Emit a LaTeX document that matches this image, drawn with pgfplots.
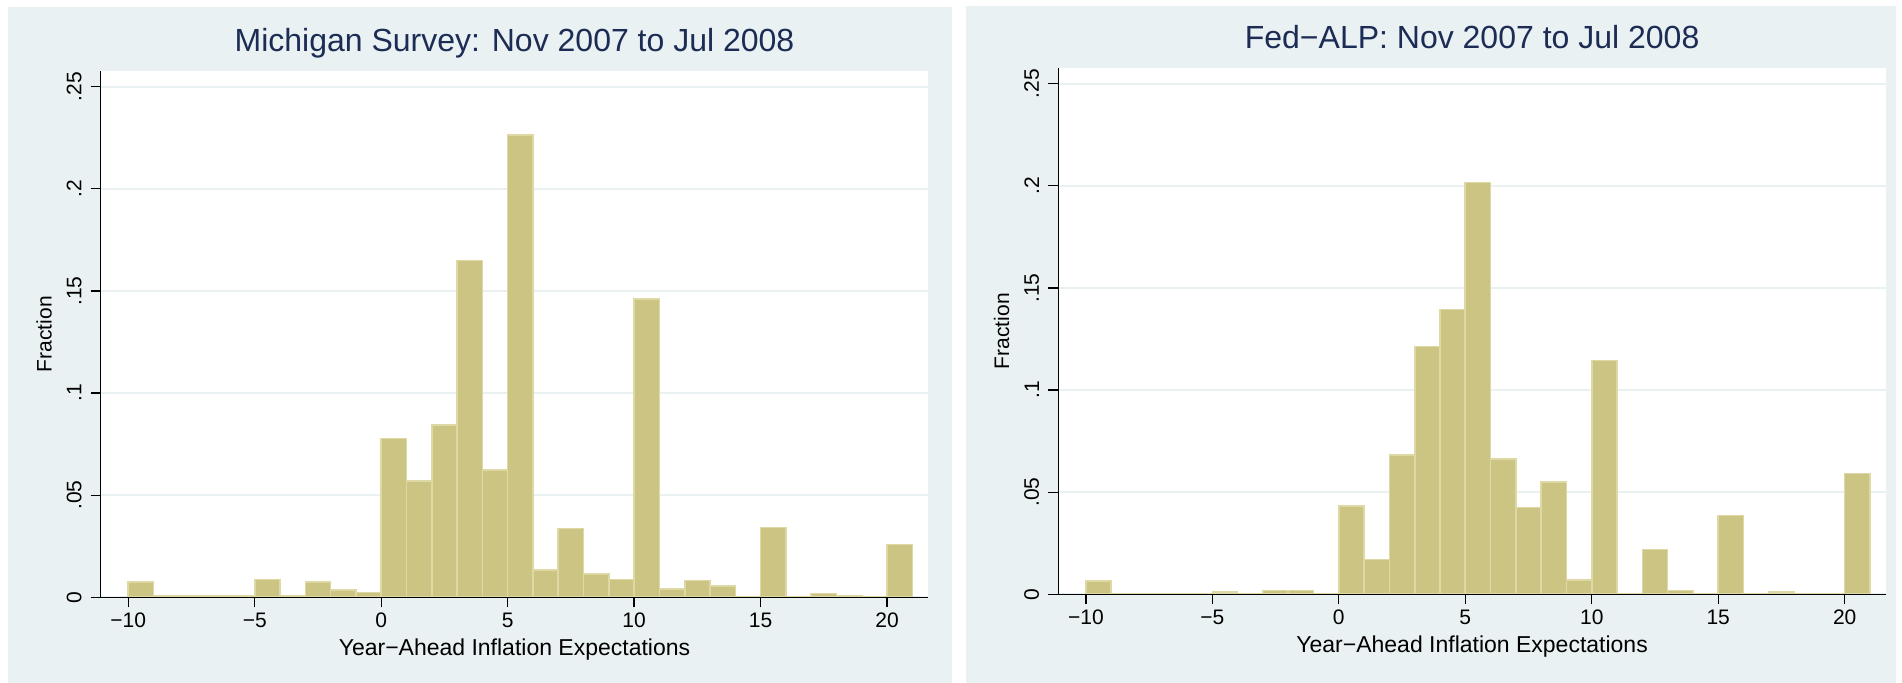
\documentclass[border=0pt]{standalone}
\usepackage{fontspec}
\setmainfont{Liberation Sans}
\usepackage{pgfplots}
\pgfplotsset{compat=1.18}
\definecolor{bgc}{RGB}{234,241,243}
\definecolor{barfill}{RGB}{204,196,130}
\definecolor{baredge}{RGB}{222,216,165}
\definecolor{gridc}{RGB}{234,241,243}
\definecolor{titlec}{RGB}{28,44,84}
\pgfplotsset{
  stata/.style={
    scale only axis, width=827.6bp, height=526.3bp,
    xmin=-11.09, xmax=21.63, ymin=0, ymax=0.2577,
    axis lines*=left,
    axis line style={black, line width=1.3bp},
    tick align=outside,
    major tick length=10bp,
    every tick/.style={black, line width=1.3bp},
    xtick={-10,-5,0,5,10,15,20},
    xticklabels={−10,−5,0,5,10,15,20},
    ytick={0,0.05,0.1,0.15,0.2,0.25},
    yticklabels={0,.05,.1,.15,.2,.25},
    ymajorgrids,
    major grid style={gridc, line width=2.2bp},
    axis background/.style={fill=white},
    tick label style={font=\fontsize{21bp}{25bp}\selectfont, inner sep=0pt, text=black},
    xticklabel shift=5.7bp,
    yticklabel shift=9bp,
    yticklabel style={rotate=90, anchor=south},
    xticklabel style={anchor=north},
    title style={at={(axis description cs:0.5,1)}, anchor=base, yshift=14bp, font=\fontsize{32bp}{38bp}\selectfont, text=titlec, inner sep=0pt},
    xlabel style={at={(axis description cs:0.5,0)}, anchor=base, yshift=-57.7bp, font=\fontsize{23bp}{28bp}\selectfont, inner sep=0pt},
    ylabel style={at={(axis description cs:-0.0684,0.5)}, anchor=center, font=\fontsize{21bp}{25bp}\selectfont, inner sep=0pt},
    xlabel={Year−Ahead Inflation Expectations},
    ylabel={Fraction},
  },
  histbar/.style={ybar interval, fill=barfill, draw=baredge, line width=1.6bp},
}
\begin{document}
\begin{tikzpicture}
\path[use as bounding box, fill=white] (0,0) rectangle (1902bp,683bp);
\fill[bgc] (8bp,0bp) rectangle (951.7bp,676bp);
\fill[bgc] (966bp,0bp) rectangle (1896bp,677bp);
\begin{axis}[stata, at={(100.7bp,85.7bp)}, anchor=south west,
  title={Michigan Survey: Nov 2007 to Jul 2008}]
\addplot[histbar] coordinates {
(-10,0.0076) (-9,0.0005) (-8,0.0005) (-7,0.0005) (-6,0.0005)
(-5,0.0088) (-4,0.0005) (-3,0.0076) (-2,0.0035) (-1,0.0024)
(0,0.0777) (1,0.0570) (2,0.0843) (3,0.1650) (4,0.0624)
(5,0.2265) (6,0.0134) (7,0.0337) (8,0.0113) (9,0.0088)
(10,0.1462) (11,0.0041) (12,0.0082) (13,0.0054) (14,0)
(15,0.0342) (16,0) (17,0.0019) (18,0.0007) (19,0)
(20,0.0259) (21,0)
};
\draw[black, line width=1.3bp] (axis cs:-11.09,0) -- (axis cs:21.63,0);
\end{axis}
\begin{axis}[stata, at={(1058.3bp,88.7bp)}, anchor=south west,
  title={Fed−ALP: Nov 2007 to Jul 2008}]
\addplot[histbar] coordinates {
(-10,0.0065) (-9,0) (-8,0) (-7,0) (-6,0)
(-5,0.0012) (-4,0) (-3,0.0019) (-2,0.0019) (-1,0)
(0,0.0433) (1,0.0170) (2,0.0681) (3,0.1214) (4,0.1395)
(5,0.2016) (6,0.0663) (7,0.0425) (8,0.0551) (9,0.0070)
(10,0.1144) (11,0) (12,0.0219) (13,0.0018) (14,0)
(15,0.0386) (16,0) (17,0.0012) (18,0) (19,0)
(20,0.0591) (21,0)
};
\draw[black, line width=1.3bp] (axis cs:-11.09,0) -- (axis cs:21.63,0);
\end{axis}
\end{tikzpicture}
\end{document}
